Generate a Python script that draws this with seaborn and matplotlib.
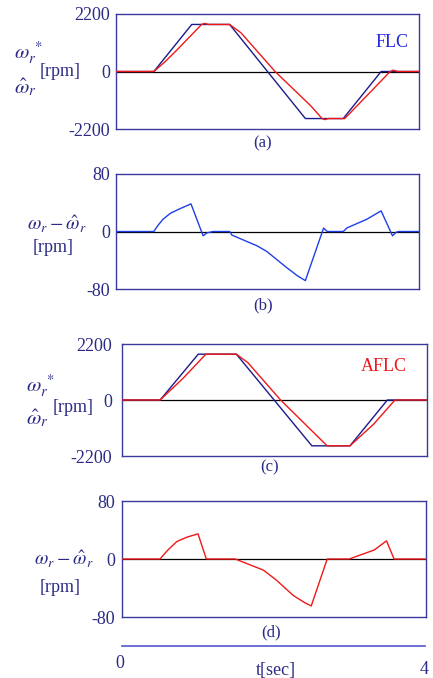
import numpy as np
import pandas as pd
import matplotlib
matplotlib.use("Agg")
import matplotlib.pyplot as plt
import seaborn as sns

# ---------------- data ----------------
# (a) FLC speed reference (omega_r*) and estimated speed
t_a_ref = [0.0, 0.5, 1.0, 1.5, 2.5, 3.0, 3.5, 4.0]
w_a_ref = [0, 0, 1800, 1800, -1800, -1800, 0, 0]
t_a_est = [0.0, 0.5, 0.65, 0.8, 1.13, 1.17, 1.22, 1.5, 1.65, 2.1, 2.57, 2.72, 2.76, 2.8, 3.02, 3.3, 3.62, 3.66, 3.72, 4.0]
w_a_est = [0, 0, 380, 810, 1800, 1840, 1800, 1800, 1480, 0, -1310, -1800, -1840, -1800, -1800, -960, 0, 50, 0, 0]

# (b) FLC speed error
t_b = [0.0, 0.5, 0.55, 0.62, 0.72, 0.85, 0.99, 1.15, 1.2, 1.28, 1.5, 1.53, 1.86, 1.99, 2.26, 2.4, 2.5, 2.74, 2.79, 2.84, 3.0, 3.05, 3.31, 3.5, 3.65, 3.7, 3.73, 4.0]
e_b = [0, 0, 8, 17, 25.5, 32, 38.4, -6, -2, 0, 0, -5, -19.8, -27.7, -50.8, -62, -68.3, 4.7, 0, 0, 0, 5, 17, 28.7, -6, -1, 0, 0]

# (c) AFLC speed reference and estimated speed
t_c_ref = [0.0, 0.5, 1.0, 1.5, 2.49, 2.99, 3.48, 4.0]
w_c_ref = [0, 0, 1800, 1800, -1800, -1800, 0, 0]
t_c_est = [0.0, 0.5, 0.8, 1.1, 1.5, 1.65, 2.08, 2.69, 2.99, 3.3, 3.58, 4.0]
w_c_est = [0, 0, 850, 1800, 1800, 1470, 0, -1800, -1800, -950, 0, 0]

# (d) AFLC speed error
t_d = [0.0, 0.5, 0.6, 0.72, 0.85, 1.0, 1.11, 1.49, 1.86, 2.03, 2.25, 2.4, 2.49, 2.7, 2.99, 3.32, 3.48, 3.58, 4.0]
e_d = [0, 0, 12, 24, 30, 34.7, 0, 0, -15.3, -29, -50, -60, -64.7, 0, 0, 12.5, 25, 0, 0]

speed_ticks = [-2200, 0, 2200]
speed_labels = ["-2200", "0", "2200"]
err_ticks = [-80, 0, 80]
err_labels = ["-80", "0", "80"]
captions = ["(a)", "(b)", "(c)", "(d)"]

# ---------------- style ----------------
sns.set_style("white")
plt.rcParams["font.family"] = ["Liberation Serif", "DejaVu Serif"]
plt.rcParams["mathtext.fontset"] = "stix"

W, H = 433, 678
fig = plt.figure(figsize=(W / 100, H / 100), dpi=100)

NAVY = "#2b2b86"
FRAME = "#3a3a9e"
BLUE_DARK = "#1a1a8a"
BLUE_BR = "#1f3fe6"
RED = "#f01818"


def ax_at(l, t, r, b):
    return fig.add_axes([l / W, 1 - b / H, (r - l) / W, (b - t) / H])


def fpos(x, y):
    return x / W, 1 - y / H


def style(ax, ticks, labels, ylim, pad):
    ax.set_xlim(0, 4)
    ax.set_ylim(*ylim)
    ax.set_xticks([])
    ax.set_yticks(ticks)
    ax.set_yticklabels(labels)
    ax.tick_params(axis="y", length=0, pad=pad, labelsize=13, labelcolor=NAVY)
    for s in ax.spines.values():
        s.set_color(FRAME)
        s.set_linewidth(1.0)
    ax.set_xlabel("")
    ax.set_ylabel("")
    ax.axhline(0, color="black", lw=0.9, zorder=1)


# (a)
ax_a = ax_at(116, 14, 419, 129)
style(ax_a, speed_ticks, speed_labels, (-2200, 2200), 4.5)
sns.lineplot(x=t_a_ref, y=w_a_ref, ax=ax_a, color=BLUE_DARK, lw=1.0, sort=False, estimator=None, zorder=2)
sns.lineplot(x=t_a_est, y=w_a_est, ax=ax_a, color=RED, lw=1.0, sort=False, estimator=None, zorder=3)
ax_a.text(0.91, 0.75, "FLC", transform=ax_a.transAxes, ha="center", va="center", color="#2424dc", fontsize=13)

# (b)
ax_b = ax_at(116, 174, 419, 289)
style(ax_b, err_ticks, err_labels, (-80, 80), 4.5)
sns.lineplot(x=t_b, y=e_b, ax=ax_b, color=BLUE_BR, lw=1.0, sort=False, estimator=None, zorder=3)

# (c)
ax_c = ax_at(122, 344, 427, 456)
style(ax_c, speed_ticks, speed_labels, (-2200, 2200), 7)
sns.lineplot(x=t_c_ref, y=w_c_ref, ax=ax_c, color=BLUE_DARK, lw=1.0, sort=False, estimator=None, zorder=2)
sns.lineplot(x=t_c_est, y=w_c_est, ax=ax_c, color=RED, lw=1.0, sort=False, estimator=None, zorder=3)
ax_c.text(0.86, 0.8, "AFLC", transform=ax_c.transAxes, ha="center", va="center", color=RED, fontsize=13)

# (d)
ax_d = ax_at(122, 501, 426, 617)
style(ax_d, err_ticks, err_labels, (-80, 80), 5)
sns.lineplot(x=t_d, y=e_d, ax=ax_d, color=RED, lw=1.0, sort=False, estimator=None, zorder=3)

# captions
for cap, (x, y) in zip(captions, [(263, 143), (263, 305), (270, 467), (271, 632)]):
    fig.text(*fpos(x, y), cap, ha="center", va="center", color=NAVY, fontsize=12)

# y-axis labels
lab_kw = dict(color=NAVY, va="center")
for (x1, y1, x2, y2, x3, y3) in [(14, 53, 40, 71, 14, 87), (26, 386, 53, 407, 26, 418)]:
    fig.text(*fpos(x1, y1), r"$\omega_r^{\;*}$", ha="left", fontsize=15, **lab_kw)
    fig.text(*fpos(x2, y2), "[rpm]", ha="left", fontsize=13, **lab_kw)
    fig.text(*fpos(x3, y3), r"$\hat{\omega}_r$", ha="left", fontsize=15, **lab_kw)
for (x1, y1, x2, y2) in [(27, 224, 33, 247), (34, 559, 40, 587)]:
    fig.text(*fpos(x1, y1), r"$\omega_r - \hat{\omega}_r$", ha="left", fontsize=14, **lab_kw)
    fig.text(*fpos(x2, y2), "[rpm]", ha="left", fontsize=13, **lab_kw)

# bottom time axis
ax_t = fig.add_axes([122 / W, 1 - 646 / H, 303 / W, 0.0001])
ax_t.set_xlim(0, 4)
ax_t.set_yticks([])
ax_t.set_xticks([0, 4])
ax_t.set_xticklabels([])
for k, s in ax_t.spines.items():
    s.set_visible(k == "bottom")
ax_t.spines["bottom"].set_color("#5555cc")
ax_t.spines["bottom"].set_linewidth(1.2)
ax_t.tick_params(axis="x", direction="out", length=4, width=1.2, color="#5555cc")
ax_t.patch.set_alpha(0)
fig.text(*fpos(120, 663), "0", ha="center", va="center", color=NAVY, fontsize=13)
fig.text(*fpos(424, 670), "4", ha="center", va="center", color=NAVY, fontsize=13)
fig.text(*fpos(276, 670), "t[sec]", ha="center", va="center", color=NAVY, fontsize=13)

fig.savefig("out.png", dpi=100)
